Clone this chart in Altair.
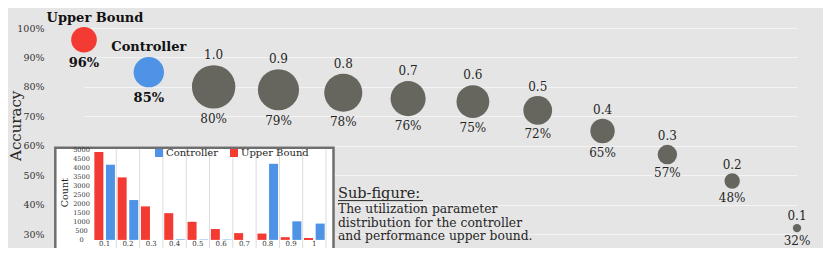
import math
import altair as alt
import pandas as pd

# ---------------- data ----------------
names = ["Upper Bound", "Controller", "1.0", "0.9", "0.8", "0.7", "0.6",
         "0.5", "0.4", "0.3", "0.2", "0.1"]
kinds = ["Upper Bound", "Controller"] + ["Parameter"] * 10
accuracy = [96, 85, 80, 79, 78, 76, 75, 72, 65, 57, 48, 32]
bubble_value = [0.35, 0.49, 1.0, 0.897, 0.77, 0.653, 0.57, 0.437, 0.317,
                0.2, 0.126, 0.037]

bins = ["0.1", "0.2", "0.3", "0.4", "0.5", "0.6", "0.7", "0.8", "0.9", "1"]
controller_counts = [4150, 2200, 0, 30, 20, 20, 0, 4200, 1025, 900]
upper_counts = [4850, 3450, 1850, 1475, 1000, 600, 375, 350, 150, 100]

note_title = "Sub-figure:"
note_lines = ["The utilization parameter",
              "distribution for the controller",
              "and performance upper bound."]

# ---------------- styling ----------------
FONT = "DejaVu Serif"
RED = "#f43b33"
BLUE = "#4f93e6"
GRAY = "#66665f"
TXT = "#262626"
BG = "#e5e5e5"
W, H = 773, 240
Y_RANGE = [226, 20]
PX = (Y_RANGE[0] - Y_RANGE[1]) / 70.0
R_MAX = 24.5
A_MAX = math.pi * R_MAX ** 2

main_df = pd.DataFrame({"name": names, "kind": kinds, "acc": accuracy,
                        "bubble": bubble_value})
main_df["pct"] = [f"{a}%" for a in accuracy]

inset_df = pd.DataFrame({
    "bin": bins * 2,
    "series": ["Controller"] * len(bins) + ["Upper Bound"] * len(bins),
    "count": controller_counts + upper_counts,
})

# ---------------- main bubble chart ----------------
y_axis = alt.Axis(orient="left", grid=True, gridColor="#f4f4f4", gridWidth=1,
                  domain=False, ticks=False, values=list(range(30, 101, 10)),
                  labelExpr="datum.value + '%'", labelFont=FONT,
                  labelFontSize=9.5, labelColor="#333", labelPadding=6,
                  labelOverlap=False, title="Accuracy", titleFont=FONT,
                  titleFontSize=15, titleFontWeight="normal", titleColor=TXT,
                  titleX=-34.5, titleY=117.3, titleBaseline="middle")
y_scale = alt.Scale(domain=[30, 100], range=Y_RANGE, nice=False, zero=False)


def ymain(field):
    return alt.Y(field, type="quantitative", scale=y_scale, axis=y_axis)


xmain = alt.X("name:N", scale=alt.Scale(type="point", domain=names,
                                         range=[34, 747], padding=0),
              axis=None)

base = alt.Chart(main_df)
top_expr = f"datum.acc + ({R_MAX}*sqrt(datum.bubble) + 3.6)/{PX}"
bot_expr = f"datum.acc - ({R_MAX}*sqrt(datum.bubble) + 3.0 + 8.8)/{PX}"
bot_bold_expr = f"datum.acc - ({R_MAX}*sqrt(datum.bubble) + 3.5 + 9.5)/{PX}"

circles = base.mark_circle(opacity=1).encode(
    x=xmain, y=ymain("acc"),
    size=alt.Size("bubble:Q", scale=alt.Scale(domain=[0, 1], range=[0, A_MAX]),
                  legend=None),
    color=alt.Color("kind:N", scale=alt.Scale(
        domain=["Upper Bound", "Controller", "Parameter"],
        range=[RED, BLUE, GRAY]), legend=None),
)

top_params = base.transform_filter("datum.kind == 'Parameter'").transform_calculate(
    ty=top_expr).mark_text(font=FONT, fontSize=12, baseline="alphabetic",
                           color=TXT).encode(x=xmain, y=ymain("ty"), text="name:N")
bot_params = base.transform_filter("datum.kind == 'Parameter'").transform_calculate(
    by=bot_expr).mark_text(font=FONT, fontSize=12, baseline="alphabetic",
                           color=TXT).encode(x=xmain, y=ymain("by"), text="pct:N")
top_ctrl = base.transform_filter("datum.kind == 'Controller'").transform_calculate(
    ty=top_expr).mark_text(font=FONT, fontSize=13, fontWeight="bold",
                           baseline="alphabetic", color="#111").encode(
    x=xmain, y=ymain("ty"), text="name:N")
top_ub = base.transform_filter("datum.kind == 'Upper Bound'").transform_calculate(
    ty=top_expr).mark_text(font=FONT, fontSize=13, fontWeight="bold",
                           baseline="alphabetic", color="#111", dx=11).encode(
    x=xmain, y=ymain("ty"), text="name:N")
bot_bold = base.transform_filter("datum.kind != 'Parameter'").transform_calculate(
    by=bot_bold_expr).mark_text(font=FONT, fontSize=13, fontWeight="bold",
                                baseline="alphabetic", color="#111").encode(
    x=xmain, y=ymain("by"), text="pct:N")

main = alt.layer(circles, top_params, bot_params, top_ctrl, top_ub, bot_bold)

# ---------------- inset histogram ----------------
one = pd.DataFrame({"k": [0]})
frame = alt.Chart(one).mark_rect(fill="white", stroke="#6e6e6e",
                                 strokeWidth=2.5).encode(
    x=alt.value(5.3), x2=alt.value(283.5), y=alt.value(139.7), y2=alt.value(300))

bin_scale = alt.Scale(domain=bins, range=[43, 276], paddingInner=0,
                      paddingOuter=0)
x_axis_inset = alt.Axis(orient="bottom", offset=-8.1, domain=False, ticks=False,
                        grid=False, labelFont=FONT, labelFontSize=7,
                        labelColor="#333", labelPadding=0, labelAngle=0,
                        title=None, zindex=1)
seps = alt.Chart(pd.DataFrame({"bin": bins})).mark_rule(
    color="#dcdcdc", strokeWidth=1).encode(
    x=alt.X("bin:N", bandPosition=1, scale=bin_scale, axis=x_axis_inset),
    y=alt.value(141), y2=alt.value(H))

bars = alt.Chart(inset_df).mark_bar().encode(
    x=alt.X("bin:N", scale=bin_scale, axis=x_axis_inset),
    xOffset=alt.XOffset("series:N", scale=alt.Scale(
        domain=["Upper Bound", "Controller"], paddingInner=0.224,
        paddingOuter=0.116)),
    y=alt.Y("count:Q", scale=alt.Scale(domain=[0, 5000], range=[231.9, 141.3],
                                       nice=False),
            axis=alt.Axis(orient="left", offset=-43, domain=False, ticks=False,
                          grid=False, values=list(range(0, 5001, 500)),
                          format="d",
                          labelFont=FONT, labelFontSize=6.5, labelAlign="center",
                          labelPadding=12, labelColor="#333", labelOverlap=False,
                          title="Count", titleFont=FONT, titleFontSize=9.5,
                          titleFontWeight="normal", titleColor=TXT,
                          titleX=-28.5, titleY=184.2, titleBaseline="middle",
                          zindex=1)),
    color=alt.Color("series:N", scale=alt.Scale(
        domain=["Controller", "Upper Bound"], range=[BLUE, RED]),
        legend=alt.Legend(orient="none", legendX=104, legendY=140,
                          direction="horizontal", title=None,
                          symbolType="square", symbolSize=64,
                          symbolStrokeWidth=0, labelFont=FONT, labelFontSize=10,
                          labelColor=TXT, columnPadding=10, labelOffset=2,
                          padding=0)),
)

note_head = alt.Chart(one).mark_text(font=FONT, fontSize=14.5, align="left",
                                     baseline="alphabetic", color=TXT).encode(
    x=alt.value(288), y=alt.value(190.4), text=alt.value(note_title))
underline = alt.Chart(one).mark_rule(color=TXT, strokeWidth=1).encode(
    x=alt.value(288), x2=alt.value(373), y=alt.value(192.6))
note_body = alt.Chart(one).mark_text(font=FONT, fontSize=12.3, align="left",
                                     baseline="alphabetic", color=TXT,
                                     lineHeight=13.7).encode(
    x=alt.value(288), y=alt.value(204.9), text=alt.value(note_lines))

inset = alt.layer(frame, seps, bars, note_head, underline, note_body)

chart = alt.layer(main, inset).resolve_scale(
    x="independent", y="independent", color="independent",
    size="independent").properties(
    width=W, height=H,
    padding={"left": 42, "top": 0, "right": 0, "bottom": 0},
    autosize=alt.AutoSizeParams(type="none"),
    background=BG,
).configure_view(stroke=None)

chart.save("out.html", embed_options={"renderer": "svg", "actions": False})
